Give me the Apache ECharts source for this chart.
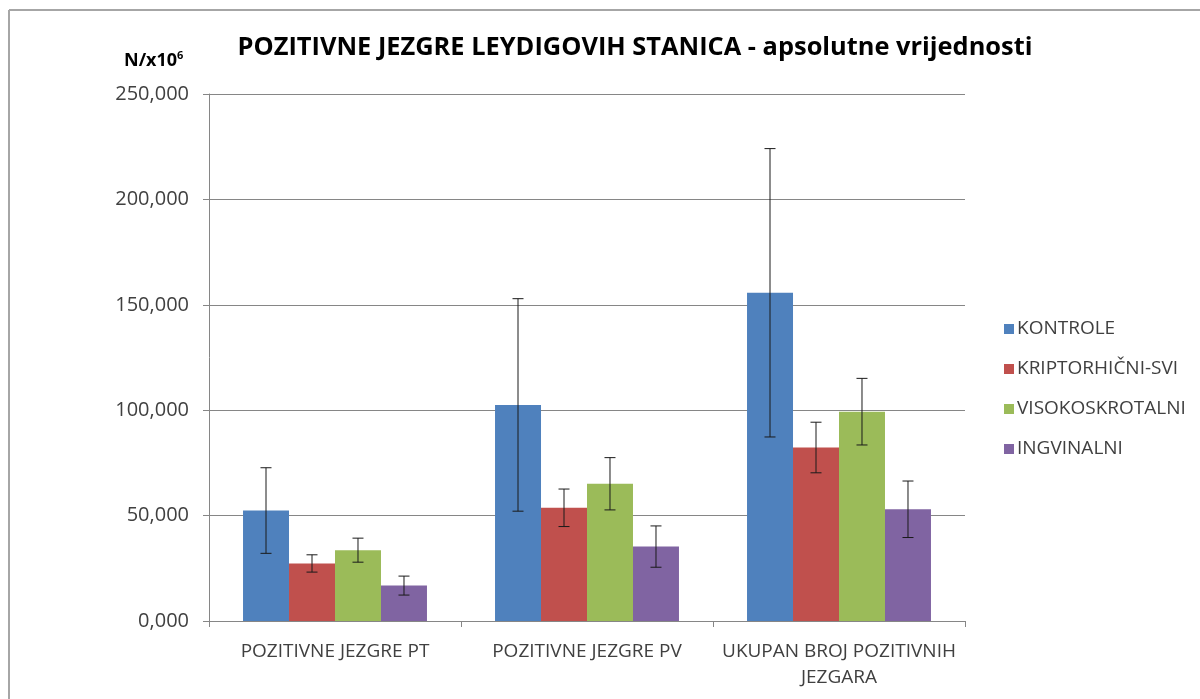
<!DOCTYPE html>
<html>
<head>
<meta charset="utf-8">
<script src="https://cdn.jsdelivr.net/npm/echarts@6/dist/echarts.min.js"></script>
<style>
html,body{margin:0;padding:0;background:#fff;}
#chart{width:1200px;height:699px;}
</style>
</head>
<body>
<div id="chart"></div>
<script>
const categories = ['POZITIVNE JEZGRE PT', 'POZITIVNE JEZGRE PV', 'UKUPAN BROJ POZITIVNIH\nJEZGARA'];
const seriesNames = ['KONTROLE', 'KRIPTORHIČNI-SVI', 'VISOKOSKROTALNI', 'INGVINALNI'];
const kontrole = [52.4, 102.5, 155.7];
const kriptorhicni = [27.3, 53.7, 82.3];
const visokoskrotalni = [33.6, 65.1, 99.3];
const ingvinalni = [16.8, 35.3, 53.0];
const kontroleSd = [20.3, 50.4, 68.4];
const kriptorhicniSd = [4.1, 8.9, 12.0];
const visokoskrotalniSd = [5.7, 12.4, 15.8];
const ingvinalniSd = [4.5, 9.8, 13.4];
const colors = ['#4F81BD', '#C0504D', '#9BBB59', '#8064A2'];

const values = [kontrole, kriptorhicni, visokoskrotalni, ingvinalni];
const sds = [kontroleSd, kriptorhicniSd, visokoskrotalniSd, ingvinalniSd];
const gapRatio = 0.27;
const nSeries = values.length;

const chart = echarts.init(document.getElementById('chart'));
const font = '"Open Sans", sans-serif';

const barSeries = values.map((v, i) => ({
  name: seriesNames[i],
  type: 'bar',
  data: v,
  barGap: 0,
  barCategoryGap: (gapRatio * 100) + '%',
  itemStyle: { color: colors[i] },
  z: 2
}));

const errSeries = values.map((v, i) => ({
  name: seriesNames[i] + '_err',
  type: 'custom',
  data: v.map((val, k) => [k, val - sds[i][k], val + sds[i][k]]),
  z: 5,
  silent: true,
  renderItem: function (params, api) {
    const k = api.value(0);
    const lo = api.coord([k, api.value(1)]);
    const hi = api.coord([k, api.value(2)]);
    const catW = api.size([1, 0])[0];
    const bw = catW * (1 - gapRatio) / nSeries;
    const x = lo[0] + (i - (nSeries - 1) / 2) * bw;
    const cap = 5.5;
    const style = { stroke: '#1a1a1a', lineWidth: 1 };
    return {
      type: 'group',
      children: [
        { type: 'line', shape: { x1: x, y1: lo[1], x2: x, y2: hi[1] }, style: style },
        { type: 'line', shape: { x1: x - cap, y1: hi[1], x2: x + cap, y2: hi[1] }, style: style },
        { type: 'line', shape: { x1: x - cap, y1: lo[1], x2: x + cap, y2: lo[1] }, style: style }
      ]
    };
  }
}));

chart.setOption({
  animation: false,
  backgroundColor: '#fff',
  textStyle: { fontFamily: font },
  title: {
    text: 'POZITIVNE JEZGRE LEYDIGOVIH STANICA - apsolutne vrijednosti',
    left: 630,
    textAlign: 'center',
    top: 30,
    textStyle: { fontFamily: font, fontWeight: 'bold', fontSize: 25.4, color: '#000' }
  },
  legend: {
    orient: 'vertical',
    left: 999,
    top: 314,
    itemWidth: 10,
    itemHeight: 10,
    itemGap: 20,
    icon: 'rect',
    data: seriesNames,
    textStyle: { fontFamily: font, fontSize: 19, color: '#404040', lineHeight: 20, padding: [0, 0, 0, -2] }
  },
  grid: { left: 209, right: 235, top: 94, bottom: 78, containLabel: false },
  xAxis: {
    type: 'category',
    data: categories,
    axisLine: { show: true, lineStyle: { color: '#868686', width: 1 } },
    axisTick: { show: true, alignWithLabel: false, length: 6, lineStyle: { color: '#868686' } },
    axisLabel: { fontFamily: font, fontSize: 19, color: '#404040', margin: 18, lineHeight: 26, interval: 0 }
  },
  yAxis: {
    type: 'value',
    min: 0,
    max: 250,
    interval: 50,
    axisLine: { show: true, lineStyle: { color: '#868686', width: 1 } },
    axisTick: { show: true, length: 6, lineStyle: { color: '#868686' } },
    splitLine: { show: true, lineStyle: { color: '#868686', width: 1 } },
    axisLabel: {
      fontFamily: font, fontSize: 20, color: '#404040', margin: 20,
      formatter: v => v.toFixed(3).replace('.', ',')
    }
  },
  graphic: [
    { type: 'line', shape: { x1: 9, y1: 10, x2: 1200, y2: 10 }, style: { stroke: '#a6a6a6', lineWidth: 2 } },
    { type: 'line', shape: { x1: 9, y1: 10, x2: 9, y2: 699 }, style: { stroke: '#a6a6a6', lineWidth: 2 } },
    {
      type: 'text',
      left: 124,
      top: 50,
      style: {
        text: '{a|N/x10}{b|6}',
        rich: {
          a: { fontFamily: font, fontWeight: 'bold', fontSize: 18, color: '#000', verticalAlign: 'bottom' },
          b: { fontFamily: font, fontWeight: 'bold', fontSize: 11, color: '#000', verticalAlign: 'top', padding: [0, 0, 9, 0] }
        }
      }
    }
  ],
  series: [...barSeries, ...errSeries]
});
</script>
</body>
</html>
